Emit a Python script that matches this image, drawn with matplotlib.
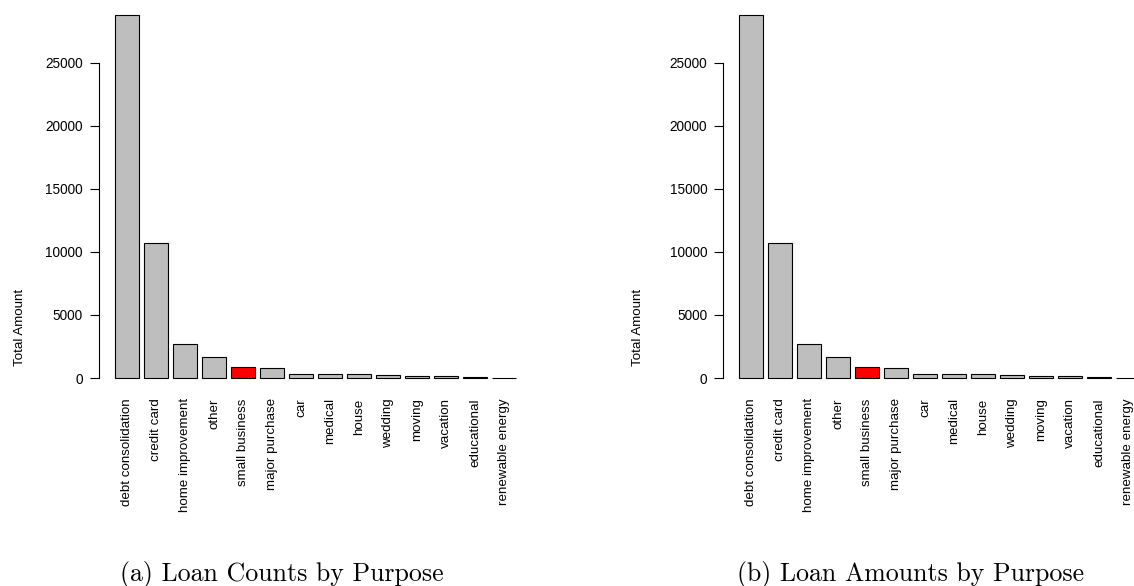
import matplotlib
matplotlib.use("Agg")
import matplotlib.pyplot as plt
import numpy as np

# Loan purposes, ordered by size
purposes = ["debt consolidation", "credit card", "home improvement", "other",
            "small business", "major purchase", "car", "medical", "house",
            "wedding", "moving", "vacation", "educational", "renewable energy"]

loan_counts = [28750, 10700, 2700, 1650, 890, 780, 350, 320, 300,
               240, 190, 140, 70, 40]
loan_amounts = [28750, 10700, 2700, 1650, 890, 780, 350, 320, 300,
                240, 190, 140, 70, 40]

highlight = "small business"
y_ticks = [0, 5000, 10000, 15000, 20000, 25000]
y_label = "Total Amount"
captions = ["(a) Loan Counts by Purpose", "(b) Loan Amounts by Purpose"]

W, H, DPI = 1134, 586, 100
plt.rcParams["font.family"] = ["Liberation Sans", "DejaVu Sans"]

fig = plt.figure(figsize=(W / DPI, H / DPI), dpi=DPI)


def px_axes(left, bottom_px, width, height):
    """Axes from pixel coordinates measured from the top-left corner."""
    return fig.add_axes([left / W, (H - bottom_px) / H, width / W, height / H])


def draw_panel(left_px, values):
    ax = px_axes(left_px, 392.6, 433, 391.9)
    x = np.arange(len(purposes))
    colors = ["#FF0000" if p == highlight else "#BEBEBE" for p in purposes]
    ax.bar(x, values, width=0.833, color=colors, edgecolor="black",
           linewidth=0.8)
    top = max(values)
    ax.set_ylim(-0.04 * top, 1.04 * top)
    ax.set_xlim(-0.97, len(purposes) - 1 + 0.97)
    for s in ["top", "right", "bottom"]:
        ax.spines[s].set_visible(False)
    ax.spines["left"].set_bounds(y_ticks[0], y_ticks[-1])
    ax.spines["left"].set_linewidth(0.8)
    ax.set_yticks(y_ticks)
    ax.set_yticklabels([str(t) for t in y_ticks], fontsize=9.8)
    ax.tick_params(axis="y", length=6.3, width=0.8, pad=5.3)
    ax.set_xticks(x)
    ax.set_xticklabels(purposes, rotation=90, fontsize=9.6, va="top",
                       ha="center")
    ax.tick_params(axis="x", length=0, pad=4.1)
    ax.patch.set_alpha(0)
    return ax


draw_panel(99, loan_counts)
draw_panel(723.3, loan_amounts)

for xpx in (20, 638):
    fig.text(xpx / W, (H - 327) / H, y_label, rotation=90, fontsize=9.6,
             ha="center", va="center")

for xpx, cap in zip((281.5, 911), captions):
    fig.text(xpx / W, (H - 580.7) / H, cap, family="cmr10", fontsize=18.6,
             ha="center", va="baseline")

fig.savefig("out.png", dpi=DPI)
